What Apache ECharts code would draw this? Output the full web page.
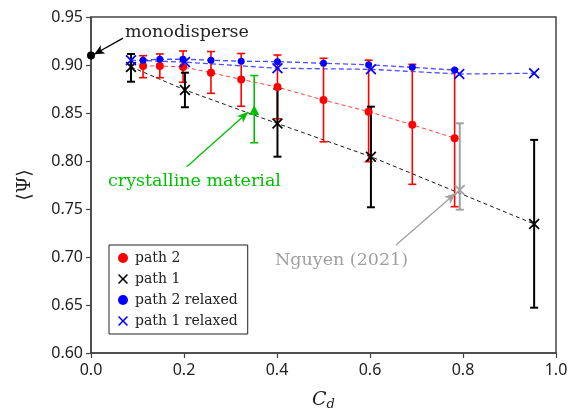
<!DOCTYPE html>
<html><head><meta charset="utf-8">
<script src="https://cdn.jsdelivr.net/npm/echarts@6/dist/echarts.min.js"></script>
<style>html,body{margin:0;padding:0;background:#fff}#c{width:576px;height:415px}</style>
</head><body><div id="c"></div>
<script>
// ---- data ----
const xTicks = [0.0, 0.2, 0.4, 0.6, 0.8, 1.0];
const yTicks = [0.60, 0.65, 0.70, 0.75, 0.80, 0.85, 0.90, 0.95];

const path2X  = [0.112, 0.148, 0.198, 0.258, 0.323, 0.401, 0.500, 0.597, 0.691, 0.782];
const path2Y  = [0.899, 0.899, 0.898, 0.892, 0.885, 0.877, 0.8635, 0.8514, 0.8377, 0.8238];
const path2Hi = [0.9097, 0.9115, 0.9146, 0.914, 0.912, 0.9104, 0.907, 0.905, 0.9007, 0.8955];
const path2Lo = [0.8868, 0.8868, 0.882, 0.8705, 0.857, 0.844, 0.820, 0.7993, 0.7757, 0.7524];

const path1X  = [0.086, 0.202, 0.401, 0.602, 0.953];
const path1Y  = [0.898, 0.874, 0.839, 0.8045, 0.7344];
const path1Hi = [0.9115, 0.892, 0.875, 0.8566, 0.822];
const path1Lo = [0.8826, 0.856, 0.8045, 0.7518, 0.6472];

const path2RelX = [0.112, 0.148, 0.198, 0.258, 0.323, 0.401, 0.500, 0.597, 0.691, 0.782];
const path2RelY = [0.905, 0.906, 0.906, 0.905, 0.904, 0.9035, 0.9018, 0.9003, 0.8976, 0.8948];

const path1RelX = [0.086, 0.202, 0.401, 0.602, 0.792, 0.953];
const path1RelY = [0.905, 0.903, 0.8966, 0.8955, 0.8906, 0.8914];

const monoX = [0.0], monoY = [0.91];
const crystX = [0.351], crystY = [0.853], crystHi = [0.889], crystLo = [0.819];
const nguyenX = [0.793], nguyenY = [0.7698], nguyenHi = [0.8393], nguyenLo = [0.7493];

// ---- helpers ----
const zip = (a, b) => a.map((v, i) => [v, b[i]]);
const zip3 = (a, b, c) => a.map((v, i) => [v, b[i], c[i]]);
const XSYM = 'path://M0,1.1L1.1,0L5,3.9L8.9,0L10,1.1L6.1,5L10,8.9L8.9,10L5,6.1L1.1,10L0,8.9L3.9,5Z';
const SERIF = 'DejaVu Serif';

function errBar(color, width, cap) {
  return function (params, api) {
    const x = api.value(0), lo = api.value(1), hi = api.value(2);
    const a = api.coord([x, lo]), b = api.coord([x, hi]);
    const h = cap / 2;
    const st = { stroke: color, lineWidth: width, fill: null };
    return { type: 'group', children: [
      { type: 'line', shape: { x1: a[0], y1: a[1], x2: b[0], y2: b[1] }, style: st },
      { type: 'line', shape: { x1: a[0] - h, y1: a[1], x2: a[0] + h, y2: a[1] }, style: st },
      { type: 'line', shape: { x1: b[0] - h, y1: b[1], x2: b[0] + h, y2: b[1] }, style: st }
    ]};
  };
}
function errSeries(name, x, lo, hi, color, width, z) {
  return { name: name, type: 'custom', renderItem: errBar(color, width, 8),
    encode: { x: 0, y: [1, 2] }, data: zip3(x, lo, hi), z: z, silent: true, clip: false };
}
function dashLine(x, y, color, width, dash, opacity, z) {
  return { type: 'line', data: zip(x, y), symbol: 'none', silent: true, z: z,
    lineStyle: { color: color, width: width, type: dash, opacity: opacity } };
}

const chart = echarts.init(document.getElementById('c'), null, { renderer: 'canvas' });
chart.setOption({
  animation: false,
  backgroundColor: '#fff',
  grid: { left: 91, right: 20, top: 17, bottom: 62, show: true, borderColor: '#444', borderWidth: 1.5,
    containLabel: false, outerBoundsMode: 'none' },
  xAxis: {
    type: 'value', min: xTicks[0], max: xTicks[xTicks.length - 1], interval: 0.2,
    axisLine: { lineStyle: { color: '#444', width: 1.5 } },
    axisTick: { length: 5, lineStyle: { color: '#444', width: 1.2 } },
    splitLine: { show: false },
    axisLabel: { color: '#222', fontFamily: 'Noto Sans', fontSize: 16, margin: 9,
      formatter: v => v.toFixed(1) },
    name: '{c|C}{d|d}', nameLocation: 'middle', nameGap: 37,
    nameTextStyle: { rich: {
      c: { fontFamily: SERIF, fontStyle: 'italic', fontSize: 19, color: '#222' },
      d: { fontFamily: SERIF, fontStyle: 'italic', fontSize: 13, color: '#222', verticalAlign: 'bottom', padding: [8, 0, 0, 0] }
    } }
  },
  yAxis: {
    type: 'value', min: yTicks[0], max: yTicks[yTicks.length - 1], interval: 0.05,
    axisLine: { show: true, lineStyle: { color: '#444', width: 1.5 } },
    axisTick: { show: true, length: 5, lineStyle: { color: '#444', width: 1.2 } },
    splitLine: { show: false },
    axisLabel: { color: '#222', fontFamily: 'Noto Sans', fontSize: 16, margin: 8,
      formatter: v => v.toFixed(2) },
    name: '⟨Ψ⟩', nameLocation: 'middle', nameGap: 56,
    nameTextStyle: { fontFamily: SERIF, fontSize: 19, color: '#222' }
  },
  legend: {
    left: 109, top: 245, orient: 'vertical',
    padding: [6, 10, 6, 9], borderColor: '#222', borderWidth: 1,
    itemWidth: 14, itemHeight: 10, itemGap: 7,
    textStyle: { fontFamily: SERIF, fontSize: 14, color: '#222' },
    data: ['path 2', 'path 1', 'path 2 relaxed', 'path 1 relaxed']
  },
  series: [
    dashLine(path2RelX, path2RelY, '#0000ff', 1.3, [5, 3], 0.7, 2),
    dashLine(path1RelX, path1RelY, '#0000ff', 1.3, [5, 3], 0.7, 2),
    dashLine(path2X, path2Y, '#ff2020', 1, [4, 3], 0.85, 2),
    dashLine(path1X, path1Y, '#000000', 1, [4, 3], 0.9, 2),
    errSeries('e2', path2X, path2Lo, path2Hi, '#ff0000', 1.6, 3),
    errSeries('e1', path1X, path1Lo, path1Hi, '#000000', 2, 4),
    errSeries('eg', nguyenX, nguyenLo, nguyenHi, '#a0a0a0', 2, 4),
    errSeries('ec', crystX, crystLo, crystHi, '#00c000', 1.6, 4),
    { name: 'path 2', type: 'scatter', data: zip(path2X, path2Y), symbol: 'circle', symbolSize: 8,
      itemStyle: { color: '#ff0000', opacity: 1 }, z: 5 },
    { name: 'path 1', type: 'scatter', data: zip(path1X, path1Y), symbol: XSYM, symbolSize: 11,
      itemStyle: { color: '#000000', opacity: 1 }, z: 5 },
    { name: 'path 2 relaxed', type: 'scatter', data: zip(path2RelX, path2RelY), symbol: 'circle', symbolSize: 7,
      itemStyle: { color: '#0000ff', opacity: 1 }, z: 6 },
    { name: 'path 1 relaxed', type: 'scatter', data: zip(path1RelX, path1RelY), symbol: XSYM, symbolSize: 11,
      itemStyle: { color: '#0000ff', opacity: 1 }, z: 6 },
    { name: 'monodisperse', type: 'scatter', data: zip(monoX, monoY), symbol: 'circle', symbolSize: 8,
      itemStyle: { color: '#000', opacity: 1 }, z: 7, clip: false,
      markLine: { silent: true, symbol: ['none', 'arrow'], symbolSize: [7, 10],
        lineStyle: { color: '#000', width: 1.3, type: 'solid' }, label: { show: false },
        data: [[{ coord: [0.069, 0.928] }, { coord: [0.007, 0.9112] }]] },
      markPoint: { silent: true, symbol: 'circle', symbolSize: 0,
        label: { show: true, position: 'inside', align: 'left', verticalAlign: 'middle',
          fontFamily: SERIF, fontSize: 17.5, color: '#222', formatter: 'monodisperse' },
        data: [{ coord: [0.073, 0.9335] }] } },
    { name: 'crystalline', type: 'scatter', data: zip(crystX, crystY), symbol: 'triangle', symbolSize: 10,
      itemStyle: { color: '#00c000', opacity: 1 }, z: 7,
      markLine: { silent: true, symbol: ['none', 'arrow'], symbolSize: [7, 11],
        lineStyle: { color: '#00c000', width: 1.3, type: 'solid' }, label: { show: false },
        data: [[{ coord: [0.206, 0.794] }, { coord: [0.338, 0.851] }]] },
      markPoint: { silent: true, symbol: 'circle', symbolSize: 0,
        label: { show: true, position: 'inside', align: 'left', verticalAlign: 'middle',
          fontFamily: SERIF, fontSize: 17.5, color: '#00c000', formatter: 'crystalline material' },
        data: [{ coord: [0.0366, 0.7784] }] } },
    { name: 'Nguyen (2021)', type: 'scatter', data: zip(nguyenX, nguyenY), symbol: XSYM, symbolSize: 11,
      itemStyle: { color: '#a0a0a0', opacity: 1 }, z: 7,
      markLine: { silent: true, symbol: ['none', 'arrow'], symbolSize: [7, 11],
        lineStyle: { color: '#a0a0a0', width: 1.3, type: 'solid' }, label: { show: false },
        data: [[{ coord: [0.656, 0.7125] }, { coord: [0.784, 0.7665] }]] },
      markPoint: { silent: true, symbol: 'circle', symbolSize: 0,
        label: { show: true, position: 'inside', align: 'left', verticalAlign: 'middle',
          fontFamily: SERIF, fontSize: 17.5, color: '#a0a0a0', formatter: 'Nguyen (2021)' },
        data: [{ coord: [0.3957, 0.6969] }] } }
  ]
});
</script></body></html>
